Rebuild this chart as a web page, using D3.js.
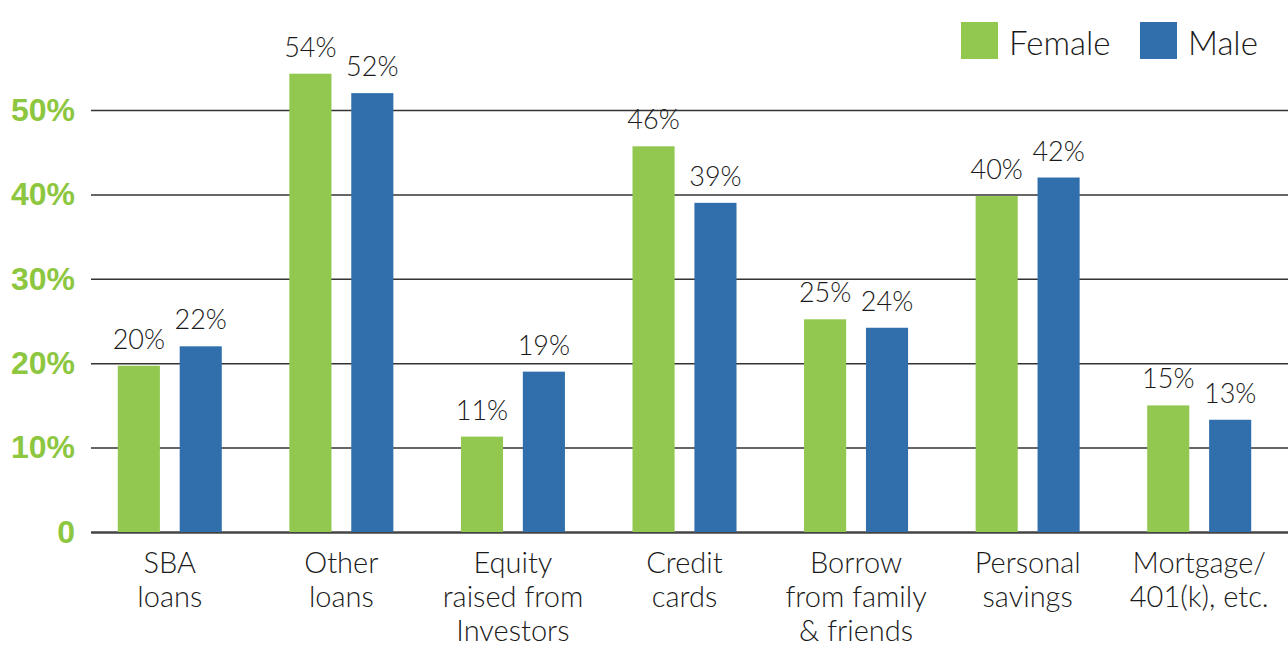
<!DOCTYPE html>
<html>
<head>
<meta charset="utf-8">
<script src="https://cdn.jsdelivr.net/npm/d3@7"></script>
<style>
  body { margin: 0; background: #fff; }
  svg { display: block; font-family: Lato, "Open Sans", sans-serif; }
  .ytick text { fill: #8dc63f; font-weight: bold; font-size: 32px; }
  .ytick line { stroke: #333; stroke-width: 1.5; }
  .cat { font-size: 29px; font-weight: 300; fill: #1a1a1a; }
  .val { font-size: 27px; font-weight: 300; fill: #1a1a1a; }
  .leg { font-size: 33px; font-weight: 300; fill: #1a1a1a; }
</style>
</head>
<body>
<svg id="chart" width="1288" height="649"></svg>
<script>
// categories, each label split into lines
var categories = [
  ["SBA", "loans"],
  ["Other", "loans"],
  ["Equity", "raised from", "Investors"],
  ["Credit", "cards"],
  ["Borrow", "from family", "& friends"],
  ["Personal", "savings"],
  ["Mortgage/", "401(k), etc."]
];
var female = [19.7, 54.3, 11.3, 45.7, 25.2, 39.8, 15.0];
var male   = [22.0, 52.0, 19.0, 39.0, 24.2, 42.0, 13.3];
var femaleLabels = ["20%", "54%", "11%", "46%", "25%", "40%", "15%"];
var maleLabels   = ["22%", "52%", "19%", "39%", "24%", "42%", "13%"];
var series = ["Female", "Male"];
var colors = ["#92c84f", "#306fac"];
var yTicks = [0, 10, 20, 30, 40, 50];

var svg = d3.select("#chart");
var left = 91, right = 1288, bottom = 532;

var x0 = d3.scaleBand()
    .domain(d3.range(categories.length))
    .range([84, 1285]);
var x1 = d3.scaleBand()
    .domain(series)
    .range([x0.bandwidth() / 2 - 52, x0.bandwidth() / 2 + 52])
    .paddingInner(0.32);
var y = d3.scaleLinear().domain([0, 50]).range([bottom, 110]);
var color = d3.scaleOrdinal().domain(series).range(colors);

// gridlines + y labels
var yAxis = d3.axisLeft(y)
    .tickValues(yTicks)
    .tickSize(-(right - left))
    .tickPadding(16)
    .tickFormat(function(d) { return d === 0 ? "0" : d + "%"; });

var ga = svg.append("g")
    .attr("class", "ytick")
    .attr("transform", "translate(" + left + ",0)")
    .call(yAxis);
ga.select(".domain").remove();
ga.selectAll(".tick line").filter(function(d) { return d === 0; })
    .style("stroke-width", 2.5).style("stroke", "#444");

// bars
var rows = categories.map(function(c, i) {
  return [
    {s: "Female", v: female[i], t: femaleLabels[i], i: i},
    {s: "Male", v: male[i], t: maleLabels[i], i: i}
  ];
});

var groups = svg.selectAll(".grp")
    .data(rows)
  .enter().append("g")
    .attr("class", "grp")
    .attr("transform", function(d, i) { return "translate(" + x0(i) + ",0)"; });

groups.selectAll("rect")
    .data(function(d) { return d; })
  .enter().append("rect")
    .attr("x", function(d) { return x1(d.s); })
    .attr("width", x1.bandwidth())
    .attr("y", function(d) { return y(d.v); })
    .attr("height", function(d) { return y(0) - y(d.v); })
    .attr("fill", function(d) { return color(d.s); });

groups.selectAll(".val")
    .data(function(d) { return d; })
  .enter().append("text")
    .attr("class", "val")
    .attr("text-anchor", "middle")
    .attr("x", function(d) { return x1(d.s) + x1.bandwidth() / 2; })
    .attr("y", function(d) { return y(d.v) - 17; })
    .text(function(d) { return d.t; });

// category labels
var cats = svg.selectAll(".cat")
    .data(categories)
  .enter().append("text")
    .attr("class", "cat")
    .attr("text-anchor", "middle")
    .attr("transform", function(d, i) {
      return "translate(" + (x0(i) + x0.bandwidth() / 2) + ",573)";
    });
cats.selectAll("tspan")
    .data(function(d) { return d; })
  .enter().append("tspan")
    .attr("x", 0)
    .attr("y", function(d, j) { return j * 34; })
    .text(function(d) { return d; });

// legend
var legX = [961, 1140];
var leg = svg.selectAll(".legitem")
    .data(series)
  .enter().append("g")
    .attr("transform", function(d, i) { return "translate(" + legX[i] + ",22)"; });
leg.append("rect")
    .attr("width", 37).attr("height", 37)
    .attr("fill", function(d) { return color(d); });
leg.append("text")
    .attr("class", "leg")
    .attr("x", 48).attr("y", 33)
    .text(function(d) { return d; });
</script>
</body>
</html>
